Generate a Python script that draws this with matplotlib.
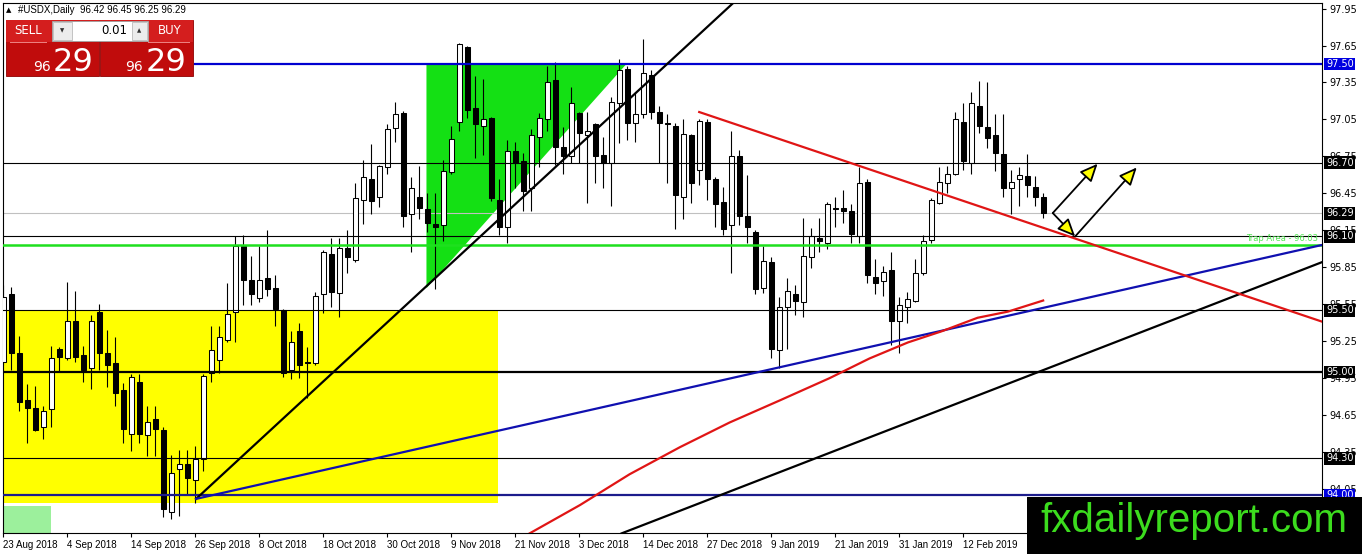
import numpy as np
import matplotlib.pyplot as plt
from matplotlib.patches import Rectangle, Polygon

W, H = 1362, 554

# daily bars, bar 0 = 23 Aug 2018
opens = [95.08, 95.63, 95.15, 94.77, 94.71, 94.55, 94.70, 95.19, 95.11, 95.41,
         95.14, 95.03, 95.49, 95.15, 95.07, 94.85, 94.50, 94.92, 94.49, 94.62,
         94.53, 93.86, 94.21, 94.25, 94.12, 94.29, 94.99, 95.10, 95.26, 95.49,
         96.02, 95.75, 95.60, 95.76, 95.68, 95.50, 95.02, 95.33, 95.08, 95.07,
         95.63, 95.96, 95.64, 96.01, 95.91, 96.40, 96.57, 96.42, 96.66, 96.98,
         97.10, 96.28, 96.42, 96.32, 96.20, 96.19, 96.62, 97.03, 97.64, 97.14,
         97.00, 97.06, 96.40, 96.18, 96.79, 96.71, 96.49, 96.91, 97.05, 97.37,
         96.83, 96.75, 97.10, 96.92, 97.01, 96.76, 96.70, 97.18, 97.46, 97.02,
         97.09, 97.41, 97.11, 97.02, 97.00, 96.42, 96.92, 96.64, 97.03, 96.57,
         96.38, 96.19, 96.75, 96.27, 96.14, 95.68, 95.89, 95.18, 95.53, 95.63,
         95.57, 95.93, 96.09, 96.05, 96.33, 96.33, 96.31, 96.10, 96.54, 95.77,
         95.74, 95.83, 95.41, 95.53, 95.58, 95.80, 96.07, 96.37, 96.53, 96.61,
         97.03, 96.70, 97.16, 96.99, 96.92, 96.77, 96.49, 96.57, 96.59, 96.50,
         96.42]
highs = [95.71, 95.69, 95.29, 94.90, 94.89, 94.72, 95.21, 95.20, 95.73, 95.66,
         95.21, 95.46, 95.55, 95.34, 95.28, 94.91, 94.98, 94.98, 94.72, 94.72,
         94.55, 94.33, 94.37, 94.37, 94.40, 94.98, 95.37, 95.37, 95.72, 96.10,
         96.11, 95.94, 96.02, 96.15, 95.79, 95.51, 95.33, 95.40, 95.20, 95.65,
         95.99, 96.09, 96.09, 96.15, 96.53, 96.72, 96.85, 96.68, 97.01, 97.19,
         97.12, 96.58, 96.67, 96.45, 96.45, 96.72, 97.00, 97.67, 97.65, 97.40,
         97.38, 97.07, 96.57, 96.88, 96.87, 96.78, 96.97, 97.10, 97.48, 97.52,
         96.99, 97.31, 97.11, 97.11, 97.02, 96.91, 97.23, 97.54, 97.48, 97.27,
         97.70, 97.45, 97.16, 97.09, 97.02, 97.05, 96.93, 97.05, 97.05, 96.58,
         96.50, 96.96, 96.80, 96.60, 96.15, 96.02, 95.93, 95.61, 95.76, 95.71,
         96.25, 96.17, 96.25, 96.38, 96.42, 96.48, 96.36, 96.66, 96.57, 95.92,
         95.86, 95.97, 95.61, 95.65, 95.92, 96.11, 96.41, 96.66, 96.67, 97.11,
         97.18, 97.27, 97.36, 97.35, 97.09, 97.09, 96.64, 96.66, 96.77, 96.59,
         96.45]
lows = [95.06, 95.02, 94.68, 94.42, 94.52, 94.46, 94.55, 95.00, 95.10, 95.08,
        94.92, 94.86, 95.02, 94.88, 94.72, 94.42, 94.36, 94.42, 94.32, 94.32,
        93.82, 93.81, 93.83, 94.00, 93.94, 94.20, 94.92, 94.99, 95.24, 95.24,
        95.54, 95.54, 95.57, 95.62, 95.37, 94.96, 94.94, 94.95, 94.79, 95.06,
        95.48, 95.53, 95.45, 95.80, 95.89, 96.20, 96.28, 96.34, 96.61, 96.87,
        96.18, 95.97, 96.24, 96.14, 95.67, 96.06, 96.61, 96.96, 97.06, 96.74,
        96.76, 96.39, 96.11, 96.05, 96.49, 96.31, 96.31, 96.66, 96.96, 96.68,
        96.61, 96.70, 96.70, 96.37, 96.53, 96.49, 96.35, 96.86, 96.88, 96.87,
        97.06, 97.05, 96.70, 96.53, 96.16, 96.24, 96.37, 96.52, 96.40, 96.18,
        96.11, 95.80, 96.19, 96.05, 95.63, 95.64, 95.11, 95.03, 95.19, 95.46,
        95.45, 95.84, 95.97, 96.00, 96.18, 96.21, 96.05, 96.05, 95.72, 95.63,
        95.62, 95.22, 95.15, 95.40, 95.57, 95.79, 96.05, 96.36, 96.45, 96.60,
        96.64, 96.61, 96.94, 96.82, 96.63, 96.42, 96.28, 96.35, 96.42, 96.35,
        96.25]
closes = [95.61, 95.15, 94.76, 94.71, 94.53, 94.68, 95.11, 95.12, 95.41, 95.12,
          95.02, 95.41, 95.15, 95.06, 94.83, 94.54, 94.96, 94.50, 94.59, 94.54,
          93.89, 94.18, 94.25, 94.14, 94.29, 94.97, 95.18, 95.28, 95.47, 96.02,
          95.75, 95.63, 95.75, 95.67, 95.51, 94.99, 95.24, 95.06, 95.07, 95.62,
          95.97, 95.65, 96.01, 95.93, 96.41, 96.58, 96.39, 96.67, 96.97, 97.09,
          96.27, 96.49, 96.33, 96.21, 96.18, 96.63, 96.89, 97.66, 97.13, 97.01,
          97.05, 96.41, 96.18, 96.79, 96.70, 96.47, 96.92, 97.06, 97.35, 96.83,
          96.75, 97.18, 96.94, 96.96, 96.75, 96.70, 97.19, 97.45, 97.02, 97.09,
          97.43, 97.11, 97.02, 97.01, 96.44, 96.93, 96.53, 97.04, 96.57, 96.36,
          96.16, 96.75, 96.27, 96.18, 95.67, 95.90, 95.19, 95.53, 95.66, 95.58,
          95.94, 96.10, 96.06, 96.36, 96.32, 96.31, 96.12, 96.53, 95.79, 95.72,
          95.81, 95.41, 95.54, 95.59, 95.80, 96.06, 96.40, 96.54, 96.61, 97.05,
          96.71, 97.18, 97.00, 96.90, 96.78, 96.49, 96.54, 96.60, 96.52, 96.42,
          96.29]

date_pos = [0, 8, 16, 24, 32, 40, 48, 56, 64, 72, 80, 88, 96, 104, 112, 120]
date_labels = ['23 Aug 2018', '4 Sep 2018', '14 Sep 2018', '26 Sep 2018', '8 Oct 2018',
               '18 Oct 2018', '30 Oct 2018', '9 Nov 2018', '21 Nov 2018', '3 Dec 2018',
               '14 Dec 2018', '27 Dec 2018', '9 Jan 2019', '21 Jan 2019', '31 Jan 2019',
               '12 Feb 2019']
price_ticks = [94.05, 94.35, 94.65, 94.95, 95.25, 95.55, 95.85, 96.15, 96.45, 96.75,
               97.05, 97.35, 97.65, 97.95]

# drawn objects (bar index, price)
up_trend_x, up_trend_y = [24.1, 93.0], [93.97, 98.10]
blue_trend_x, blue_trend_y = [24.1, 164.8], [93.97, 96.03]
low_trend_x, low_trend_y = [77.3, 164.8], [93.69, 95.89]
red_trend_x, red_trend_y = [87.0, 164.8], [97.11, 95.41]
ma_x = [65.8, 72.1, 78.3, 84.6, 90.8, 97.1, 103.3, 108.3, 113.1, 117.3, 121.8, 125.6, 130.0]
ma_y = [93.69, 93.92, 94.17, 94.39, 94.59, 94.77, 94.95, 95.11, 95.24, 95.33, 95.44, 95.49, 95.58]
tri_x = [52.9, 77.9, 52.9]
tri_y = [97.50, 97.50, 95.68]
box_x = [-1, 61.8]
box_y = [93.94, 95.50]
resist_start, resist = 24.0, 97.50
trap = 96.03
arrows = [((131.2, 96.29), (134.0, 96.10)),
          ((131.2, 96.29), (136.8, 96.69)),
          ((134.0, 96.10), (141.7, 96.66))]

levels = [96.70, 96.10, 95.50, 95.00, 94.30, 94.00]
level_lw = [0.8, 0.8, 0.8, 1.6, 0.8, 1.6]
level_col = ['black', 'black', 'black', 'black', 'black', '#1c1c8c']
tags = [97.50, 96.70, 96.29, 96.10, 95.50, 95.00, 94.30, 94.00]
tag_col = ['#0000e0', 'black', 'black', 'black', 'black', 'black', 'black', '#0000e0']

fig = plt.figure(figsize=(W / 100, H / 100), dpi=100)
ax = fig.add_axes([3 / W, 21 / H, 1319 / W, 530 / H])
ax.set_xlim(-0.04, 164.86)
ax.set_ylim(93.693, 97.995)

# background objects
ax.add_patch(Rectangle((box_x[0], box_y[0]), box_x[1] - box_x[0], box_y[1] - box_y[0],
                       fc='#ffff00', ec='none', zorder=1))
ax.add_patch(Polygon(list(zip(tri_x, tri_y)), closed=True, fc='#14e014', ec='none', zorder=1))
ax.add_patch(Rectangle((0, 0), 48 / 1319, 27 / 530, transform=ax.transAxes,
                       fc='#9cf09c', ec='none', zorder=1))

# candles
o = np.array(opens); c = np.array(closes)
x = np.arange(len(o))
bull = c >= o
ax.vlines(x, lows, highs, color='black', lw=0.8, zorder=3)
ax.bar(x, np.maximum(np.abs(c - o), 0.006), bottom=np.minimum(o, c), width=0.62,
       color=np.where(bull, 'white', 'black'), edgecolor='black', lw=0.75, zorder=4)

# horizontal levels
ax.axhline(closes[-1], color='#c0c0c0', lw=0.8, zorder=2)
for p, lw, col in zip(levels, level_lw, level_col):
    ax.axhline(p, color=col, lw=lw, zorder=5)
ax.axhline(trap, color='#1ee01e', lw=1.8, zorder=5)
ax.plot([resist_start, 170], [resist, resist], color='#0000d0', lw=1.6, zorder=5)
ax.text(0.997, trap + 0.02, 'Trap Area - %.2f' % trap, transform=ax.get_yaxis_transform(),
        ha='right', va='bottom', fontsize=6, color='#55e855', zorder=6)

# trend lines
ax.plot(up_trend_x, up_trend_y, color='black', lw=1.6, zorder=6)
ax.plot(blue_trend_x, blue_trend_y, color='#1010b0', lw=1.6, zorder=6)
ax.plot(low_trend_x, low_trend_y, color='black', lw=1.6, zorder=6)
ax.plot(red_trend_x, red_trend_y, color='#e01515', lw=1.6, zorder=6)
ax.plot(ma_x, ma_y, color='#e01515', lw=1.6, zorder=6)

for start, end in arrows:
    ax.annotate('', xy=end, xytext=start, zorder=7,
                arrowprops=dict(arrowstyle='-|>,head_length=0.9,head_width=0.4',
                                fc='#ffff00', ec='black', lw=1.3, mutation_scale=12,
                                shrinkA=0, shrinkB=0))

# axes
for s in ax.spines.values():
    s.set_linewidth(0.8)
ax.yaxis.tick_right()
ax.set_yticks(price_ticks, ['%.2f' % v for v in price_ticks])
ax.set_xticks(date_pos, date_labels)
ax.tick_params(axis='both', labelsize=7, length=3, width=0.8, pad=2)
for lab in ax.get_xticklabels():
    lab.set_ha('left')
    lab.set_family('Liberation Sans')

for p, col in zip(tags, tag_col):
    ax.text(1.003, p, '%.2f' % p, transform=ax.get_yaxis_transform(), ha='left', va='center',
            fontsize=7, color='white', clip_on=False, zorder=8,
            bbox=dict(boxstyle='square,pad=0.15', fc=col, ec='none'))


def px_box(x0, y0, x1, y1, **kw):
    fig.add_artist(Rectangle((x0 / W, 1 - y1 / H), (x1 - x0) / W, (y1 - y0) / H,
                             transform=fig.transFigure, **kw))


def px_text(xp, yp, s, **kw):
    fig.text(xp / W, 1 - yp / H, s, **kw)


# header
px_text(6, 10, '\u25b2', fontsize=5, va='center')
px_text(18, 10, '#USDX,Daily  %.2f %.2f %.2f %.2f' % (opens[-1], highs[-1], lows[-1], closes[-1]),
        fontsize=7, family='Liberation Sans', va='center')

# one click trading panel
big, small = ('%.2f' % closes[-1]).split('.')
for x0, x1, name in [(6, 99, 'SELL'), (100, 193, 'BUY')]:
    px_box(x0, 20, x1, 76, fc='#c00c0c', ec='#900000', lw=0.6, zorder=10)
    px_box(x0, 20, x1, 42, fc='#d41e1e', ec='none', zorder=10)
px_box(10, 42, 47, 43, fc='#ec8080', ec='none', zorder=11)
px_box(148, 42, 190, 43, fc='#ec8080', ec='none', zorder=11)
px_text(28, 31, 'SELL', color='white', fontsize=8.5, ha='center', va='center', zorder=12)
px_text(170, 31, 'BUY', color='white', fontsize=8.5, ha='center', va='center', zorder=12)
px_box(52, 21, 148, 41, fc='white', ec='#a0a0a0', lw=0.6, zorder=11)
px_box(53, 22, 72, 40, fc='#ececec', ec='#b0b0b0', lw=0.5, zorder=12)
px_box(132, 22, 147, 40, fc='#ececec', ec='#b0b0b0', lw=0.5, zorder=12)
px_text(62.5, 31, '\u25bc', fontsize=4, ha='center', va='center', color='#303030', zorder=13)
px_text(139.5, 31, '\u25b2', fontsize=4, ha='center', va='center', color='#303030', zorder=13)
px_text(127, 31, '0.01', fontsize=8.5, ha='right', va='center', zorder=13)
for xs, xb in [(51, 53), (143, 146)]:
    px_text(xs, 71, big, color='white', fontsize=10, ha='right', va='baseline', zorder=12)
    px_text(xb, 71, small, color='white', fontsize=23, ha='left', va='baseline', zorder=12)

# logo
px_box(1027, 497, 1362, 554, fc='black', ec='none', zorder=20)
px_text(1194, 521, 'fxdailyreport.com', fontsize=29, family='Liberation Sans',
        color='#3cdc1e', ha='center', va='center', zorder=21)

fig.savefig('out.png', dpi=100)
